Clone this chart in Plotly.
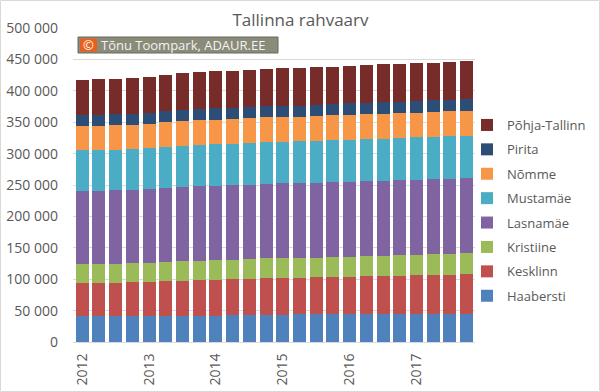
import plotly.graph_objects as go

years = ["2012", "2013", "2014", "2015", "2016", "2017"]
quarters = list(range(24))

haabersti = [41.6, 41.6, 41.7, 41.8, 42.0, 42.1, 42.1, 42.2, 42.2, 42.3, 42.4, 43.6, 43.7, 43.8, 43.9, 44.0, 44.1, 44.2, 44.3, 44.3, 44.4, 44.9, 45.0, 45.2]
kesklinn = [52.3, 52.4, 52.6, 53.2, 53.8, 55.2, 55.7, 56.5, 56.8, 57.3, 57.9, 58.0, 58.2, 58.6, 58.9, 59.3, 59.7, 60.2, 60.6, 61.1, 61.6, 61.9, 62.4, 63.0]
kristiine = [29.6, 29.8, 30.0, 30.2, 30.4, 30.6, 30.8, 31.0, 31.1, 31.3, 31.5, 31.6, 31.7, 31.5, 31.7, 31.9, 32.1, 32.2, 32.4, 32.5, 32.6, 32.8, 32.9, 33.0]
lasnamae = [116.8, 117.0, 117.1, 117.2, 117.4, 117.9, 118.3, 118.7, 119.0, 119.0, 119.0, 118.9, 118.9, 119.0, 118.9, 119.1, 119.1, 119.3, 119.4, 119.6, 119.8, 119.6, 119.6, 119.7]
mustamae = [64.9, 64.8, 64.8, 64.8, 64.9, 65.0, 65.2, 65.4, 65.6, 65.9, 66.0, 66.2, 66.4, 66.5, 66.6, 66.8, 67.0, 67.1, 67.3, 67.4, 67.5, 67.6, 67.7, 67.9]
nomme = [38.9, 38.9, 39.0, 39.0, 39.1, 39.3, 39.5, 39.5, 39.6, 39.5, 39.7, 39.8, 39.4, 39.3, 39.6, 39.7, 39.8, 39.9, 39.6, 39.5, 39.4, 39.4, 39.6, 39.2]
pirita = [17.2, 17.3, 17.3, 17.4, 17.5, 17.5, 17.5, 17.6, 17.6, 17.7, 17.7, 17.8, 17.8, 17.8, 17.9, 18.0, 18.0, 18.1, 18.2, 18.3, 18.3, 18.4, 18.5, 18.6]
pohja = [56.5, 56.4, 56.7, 57.0, 57.2, 58.0, 58.6, 59.0, 59.1, 59.3, 59.4, 59.5, 59.6, 59.7, 59.8, 59.9, 60.0, 60.1, 60.2, 60.3, 60.4, 60.4, 60.5, 60.6]

series = [
    ("Haabersti", haabersti, "#4f81bd"),
    ("Kesklinn", kesklinn, "#c0504d"),
    ("Kristiine", kristiine, "#9bbb59"),
    ("Lasnamäe", lasnamae, "#8064a2"),
    ("Mustamäe", mustamae, "#4bacc6"),
    ("Nõmme", nomme, "#f79646"),
    ("Pirita", pirita, "#2c4d75"),
    ("Põhja-Tallinn", pohja, "#772c2a"),
]

FONT = "Open Sans"
fig = go.Figure()
n = len(series)
for i, (name, vals, col) in enumerate(series):
    fig.add_trace(go.Bar(
        x=quarters, y=[v * 1000 for v in vals], name=name,
        marker=dict(color=col, line=dict(width=0)),
        legendgroup=name, legendrank=n - i,
    ))

W, H = 600, 392
ml, mr, mt, mb = 73, 125, 28, 50
pw, ph = W - ml - mr, H - mt - mb

def px_x(p):
    return (p - ml) / pw

def px_y(p):
    return (H - mb - p) / ph

fig.update_layout(
    width=W, height=H,
    margin=dict(l=ml, r=mr, t=mt, b=mb, autoexpand=False),
    barmode="stack", bargap=0.22,
    paper_bgcolor="white", plot_bgcolor="white",
    separators=", ",
    font=dict(family=FONT, size=13, color="#595959"),
    title=dict(text="Tallinna rahvaarv", x=px_x(300.5), xref="paper", xanchor="center",
               y=1 - 20 / H, yanchor="middle",
               font=dict(size=17, color="#595959", family=FONT)),
    xaxis=dict(
        tickmode="array", tickvals=[0, 4, 8, 12, 16, 20], ticktext=years,
        tickangle=-90, range=[-0.55, 23.5], showgrid=False, automargin=False,
        showline=True, linecolor="#d9d9d9", ticks="", zeroline=False,
        tickfont=dict(size=14, color="#595959", family=FONT),
        ticklabelstandoff=5,
    ),
    yaxis=dict(
        range=[0, 500000], dtick=50000, tickformat=",d", automargin=False,
        showgrid=True, gridcolor="#d9d9d9", zeroline=False, showline=False,
        tickfont=dict(size=14, color="#595959", family=FONT), ticks="",
        ticklabelstandoff=14,
    ),
    legend=dict(
        x=px_x(467), xanchor="left", y=px_y(110), yanchor="top",
        traceorder="grouped", tracegroupgap=4.5,
        font=dict(size=13, color="#595959", family=FONT),
        itemwidth=30, bgcolor="rgba(0,0,0,0)",
    ),
    showlegend=True,
)

# watermark: grey box, orange box with ©, then text
fig.add_shape(type="rect", xref="paper", yref="paper",
              x0=px_x(78), x1=px_x(278), y0=px_y(53), y1=px_y(37),
              fillcolor="#8b8b7a", line=dict(color="#6a6a5c", width=1), layer="above")
fig.add_shape(type="rect", xref="paper", yref="paper",
              x0=px_x(80), x1=px_x(97), y0=px_y(51.5), y1=px_y(38.5),
              fillcolor="#e8601c", line=dict(width=0), layer="above")
fig.add_annotation(
    xref="paper", yref="paper", x=px_x(88.5), y=px_y(45), xanchor="center", yanchor="middle",
    text="©", showarrow=False, font=dict(size=13, color="#ffffff", family=FONT),
)
fig.add_annotation(
    xref="paper", yref="paper", x=px_x(99), y=px_y(45), xanchor="left", yanchor="middle",
    text="Tõnu Toompark, ADAUR.EE", showarrow=False,
    font=dict(size=13, color="#f2f2f2", family=FONT),
)

# outer border
fig.add_shape(type="rect", xref="paper", yref="paper",
              x0=px_x(0.5), x1=px_x(W - 0.5), y0=px_y(H - 0.5), y1=px_y(0.5),
              line=dict(color="#d9d9d9", width=1), layer="below")

fig.write_html("out.html", config={"displayModeBar": False},
               post_script="document.body.style.margin='0';")
